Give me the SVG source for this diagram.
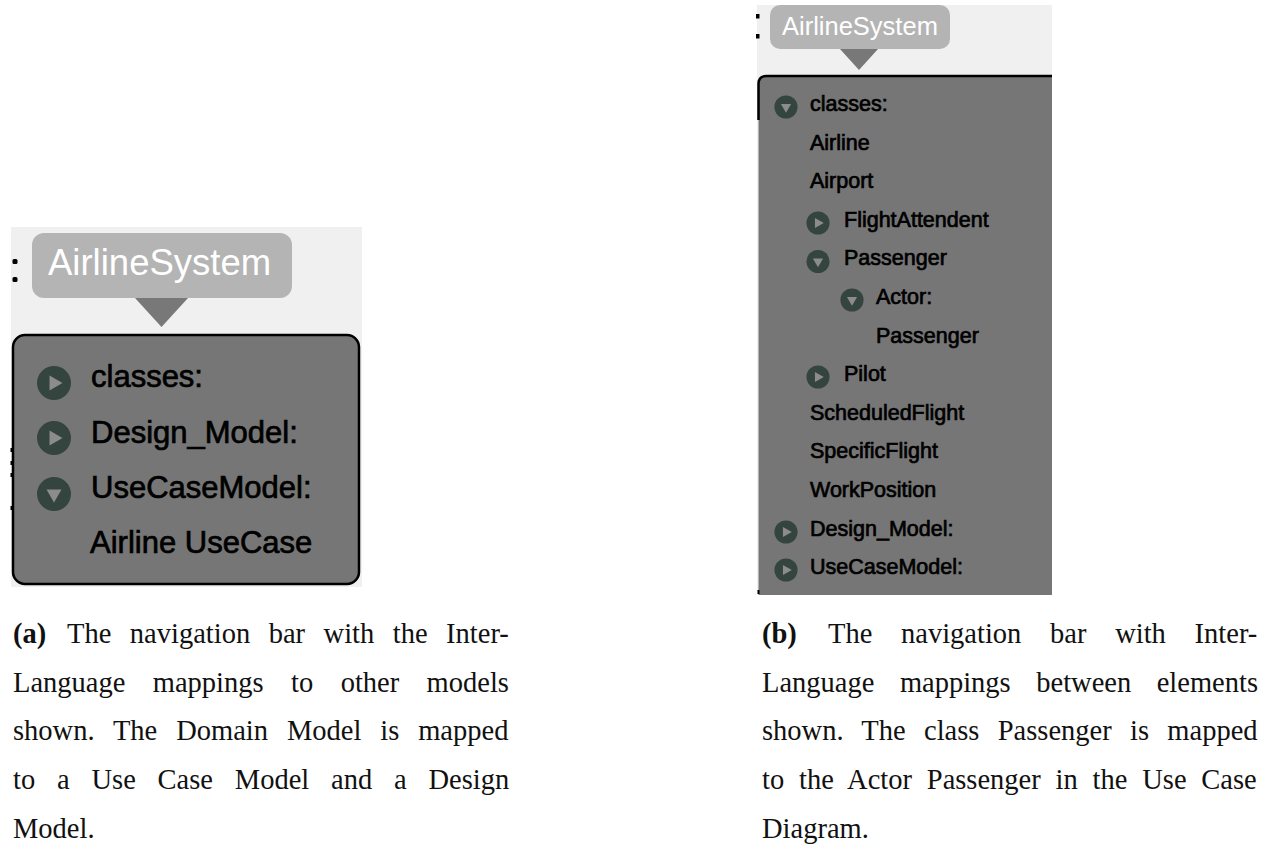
<svg xmlns="http://www.w3.org/2000/svg" xmlns:xlink="http://www.w3.org/1999/xlink" width="1270" height="844" viewBox="0 0 1270 844">
  <style>
    .bg { fill: #f0f0f0; }
    .bubble { fill: #b4b4b4; }
    .ptr { fill: #787878; }
    .box { fill: #767676; stroke: #000; stroke-width: 2.5; }
    .title { font-family: "Liberation Sans", Arial, sans-serif; fill: #fff; }
    .item { font-family: "Liberation Sans", Arial, sans-serif; fill: #000; stroke: #000; stroke-width: 0.7; }
    .big { font-size: 31px; }
    .small { font-size: 21.5px; }
    .cap { font-family: "Liberation Serif", "Times New Roman", serif; font-size: 28.5px; fill: #111; }
    .capb { font-weight: bold; }
    .dot { fill: #000; }
  </style>
  <defs>
    <!-- collapsed / expanded tree toggles, radius 17 -->
    <g id="tgClosed">
      <circle r="17" fill="#34443e"/>
      <polygon points="-4.5,-7.5 -4.5,7.5 8.5,0" fill="#8c8c8c"/>
    </g>
    <g id="tgOpen">
      <circle r="17" fill="#34443e"/>
      <polygon points="-7.5,-4.5 7.5,-4.5 0,8.5" fill="#8c8c8c"/>
    </g>
  </defs>

  <rect width="1270" height="844" fill="#fff"/>

  <!-- left panel: model-level mappings -->
  <g id="panelA">
    <rect class="bg" x="11" y="227" width="351" height="360"/>
    <rect class="dot" x="12.5" y="259" width="5" height="5" rx="1.5"/>
    <rect class="dot" x="12.5" y="277" width="5" height="5" rx="1.5"/>
    <rect class="dot" x="10.5" y="448" width="3" height="4"/>
    <rect class="dot" x="10.5" y="461" width="3" height="4"/>
    <rect class="dot" x="10.5" y="473" width="3" height="4"/>
    <rect class="dot" x="10.5" y="506" width="3" height="4"/>
  </g>
  <g id="titleA">
    <rect class="bubble" x="32" y="233" width="260" height="65" rx="12"/>
    <text class="title" x="48" y="275" font-size="36.5">AirlineSystem</text>
  </g>
  <g id="navA">
    <rect class="box" x="13" y="335" width="346" height="249" rx="12"/>
    <use xlink:href="#tgClosed" x="54" y="383"/>
    <text class="item big" x="91" y="387">classes:</text>
    <use xlink:href="#tgClosed" x="54" y="438"/>
    <text class="item big" x="91" y="443">Design_Model:</text>
    <use xlink:href="#tgOpen" x="54" y="494"/>
    <text class="item big" x="91" y="498">UseCaseModel:</text>
    <text class="item big" x="90" y="553">Airline UseCase</text>
  </g>

  <!-- right panel: element-level mappings -->
  <g id="panelB">
    <rect class="bg" x="757" y="5" width="295" height="590"/>
    <rect class="dot" x="756" y="14" width="3.5" height="4.5"/>
    <rect class="dot" x="756" y="34" width="3.5" height="4.5"/>
  </g>
  <g id="titleB">
    <rect class="bubble" x="770" y="5" width="180" height="44" rx="10"/>
    <text class="title" x="782" y="35" font-size="25.5">AirlineSystem</text>
  </g>
  <g id="navB">
    <path d="M758.5,595 V84 Q758.5,76 766.5,76 H1052 V595 Z" fill="#767676"/>
    <path d="M758.5,120 V84 Q758.5,76 766.5,76 H1052" fill="none" stroke="#000" stroke-width="2.5"/>
    <rect class="dot" x="757.5" y="590" width="2" height="4"/>

    <g transform="translate(786,107) scale(0.68)"><use xlink:href="#tgOpen"/></g>
    <text class="item small" x="810" y="111">classes:</text>
    <text class="item small" x="810" y="149.6">Airline</text>
    <text class="item small" x="810" y="188.2">Airport</text>
    <g transform="translate(818,223) scale(0.68)"><use xlink:href="#tgClosed"/></g>
    <text class="item small" x="844" y="226.8">FlightAttendent</text>
    <g transform="translate(818,261.5) scale(0.68)"><use xlink:href="#tgOpen"/></g>
    <text class="item small" x="844" y="265.4">Passenger</text>
    <g transform="translate(852,300) scale(0.68)"><use xlink:href="#tgOpen"/></g>
    <text class="item small" x="876" y="304">Actor:</text>
    <text class="item small" x="876" y="342.6">Passenger</text>
    <g transform="translate(818,377) scale(0.68)"><use xlink:href="#tgClosed"/></g>
    <text class="item small" x="844" y="381.2">Pilot</text>
    <text class="item small" x="810" y="419.8">ScheduledFlight</text>
    <text class="item small" x="810" y="458.4">SpecificFlight</text>
    <text class="item small" x="810" y="497">WorkPosition</text>
    <g transform="translate(786,532) scale(0.68)"><use xlink:href="#tgClosed"/></g>
    <text class="item small" x="810" y="535.6">Design_Model:</text>
    <g transform="translate(786,570) scale(0.68)"><use xlink:href="#tgClosed"/></g>
    <text class="item small" x="810" y="574.2">UseCaseModel:</text>
  </g>

  <!-- connectors: none beyond the title pointers -->
  <g id="pointers">
    <polygon class="ptr" points="135,298 188,298 161.5,327"/>
    <polygon class="ptr" points="840,49 878,49 859,70"/>
  </g>

  <!-- sub-figure captions, justified through word spacing -->
  <g id="captionA">
    <text class="cap capb" x="13" y="643">(a)</text>
    <text class="cap" x="67" y="643" word-spacing="11.4">The navigation bar with the Inter-</text>
    <text class="cap" x="13" y="692" word-spacing="20.3">Language mappings to other models</text>
    <text class="cap" x="13" y="740" word-spacing="11.8">shown. The Domain Model is mapped</text>
    <text class="cap" x="13" y="789" word-spacing="14.7">to a Use Case Model and a Design</text>
    <text class="cap" x="13" y="838">Model.</text>
  </g>
  <g id="captionB">
    <text class="cap capb" x="762" y="643">(b)</text>
    <text class="cap" x="828" y="643" word-spacing="21.6">The navigation bar with Inter-</text>
    <text class="cap" x="762" y="692" word-spacing="18.4">Language mappings between elements</text>
    <text class="cap" x="762" y="740" word-spacing="11.2">shown. The class Passenger is mapped</text>
    <text class="cap" x="762" y="789" word-spacing="7.7">to the Actor Passenger in the Use Case</text>
    <text class="cap" x="762" y="838">Diagram.</text>
  </g>
</svg>
